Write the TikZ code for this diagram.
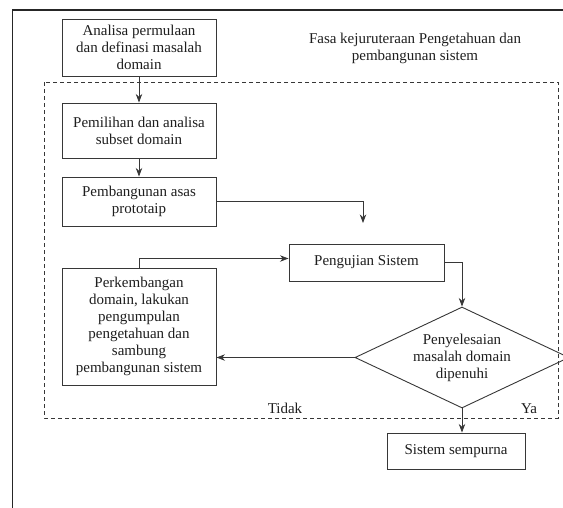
\documentclass[tikz,border=0pt]{standalone}
\usepackage{fontspec}
\setmainfont{Liberation Serif}
\usetikzlibrary{arrows.meta,shapes.geometric}
\definecolor{LN}{RGB}{55,55,55}
\definecolor{TX}{RGB}{30,30,30}
\tikzset{
  % process box
  proc/.style={
    draw=LN, line width=0.9pt, fill=white,
    align=center, inner sep=2pt, text=TX,
    minimum width=154pt
  },
  % decision
  dec/.style={
    diamond, aspect=2, draw=LN, line width=0.9pt,
    align=center, inner sep=0pt, text=TX,
    minimum width=214pt, minimum height=101pt
  },
  % connector
  flow/.style={-{Stealth[scale=1.3]}, draw=LN, line width=0.8pt},
  % free text
  lbl/.style={text=TX, align=center, inner sep=1pt},
}

\begin{document}
\begin{tikzpicture}[x=1pt, y=-1pt, font=\fontsize{15}{17}\selectfont]
\useasboundingbox (0,0) rectangle (563,507);

% -- frames ------------------------------------------------------------------
\draw[line width=1.5pt, draw=black!85] (12.5,10) rectangle (575,520);
\draw[dash pattern=on 4pt off 3pt, draw=LN, line width=0.8pt] (44,82) rectangle (558,418);

% -- nodes -------------------------------------------------------------------
\node[proc, minimum height=57pt] (ana) at (139,47.5)
  {Analisa permulaan\\dan definasi masalah\\domain};
\node[lbl] (fasa) at (415,48.5)
  {Fasa kejuruteraan Pengetahuan dan\\pembangunan sistem};
\node[proc, minimum height=55pt] (pil) at (139,130.5)
  {Pemilihan dan analisa\\subset domain};
\node[proc, minimum height=49pt] (pem) at (139,201.5)
  {Pembangunan asas\\prototaip};
\coordinate (pemEnd) at (363,223);
\node[proc, minimum width=155pt, minimum height=37pt] (uji) at (366.5,262.5)
  {Pengujian Sistem};
\node[proc, minimum height=117pt] (per) at (139,326.5)
  {Perkembangan\\domain, lakukan\\pengumpulan\\pengetahuan dan\\sambung\\pembangunan sistem};
\node[dec] (dia) at (462,357.5)
  {Penyelesaian\\masalah domain\\dipenuhi};
\node[proc, minimum width=138pt, minimum height=36pt] (sis) at (456,451)
  {Sistem sempurna};
\node[lbl] (tidak) at (285,408) {Tidak};
\node[lbl, fill=white, inner xsep=12pt, inner ysep=3pt] (ya) at (529,409) {Ya};

% -- arrows ------------------------------------------------------------------
\draw[flow] (ana) -- (pil);
\draw[flow] (pil) -- (pem);
\draw[flow] (pem.east) -| (pemEnd);
\draw[flow] (per.north) |- ([yshift=4pt]uji.west);
\draw[flow] (uji.east) -| (dia.north);
\draw[flow] (dia.west) -- (dia.west -| per.east);
\draw[flow] (dia.south) -- (dia.south |- sis.north);

\end{tikzpicture}
\end{document}
